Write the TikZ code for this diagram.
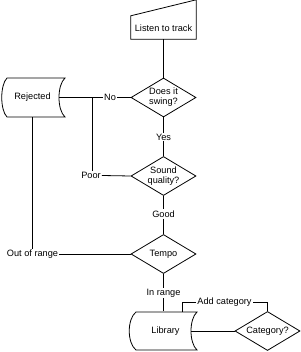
\documentclass[tikz,border=0pt]{standalone}
\usepackage{fontspec}
\setmainfont{Liberation Sans}
\usetikzlibrary{shapes.geometric,calc}
\begin{document}
\begin{tikzpicture}[x=1pt,y=-1pt,
  every node/.style={font=\fontsize{9.2}{10}\selectfont, align=center},
  box/.style={rectangle, inner sep=0pt, minimum width=#1, minimum height=39pt},
  dec/.style={diamond, draw, line width=0.8pt, inner sep=0pt, minimum width=65pt, minimum height=39pt, aspect=1.67},
  lbl/.style={inner sep=1pt},
  ln/.style={line width=0.8pt},
  shp/.style={draw, line width=0.8pt}]
\useasboundingbox (0,0) rectangle (300,352);
% shapes
\node[box=65pt] (listen) at (163.5,19.5) {};
\node (listentxt) at (163.5,28) {Listen to track};
\draw[shp] (listen.south west) -- (listen.south east) -- (listen.north east) -- ($(listen.north west)+(0,16)$) -- cycle;
\node[dec] (swing) at (163.5,97.5) {Does it\\swing?};
\node[dec] (sound) at (163.5,176) {Sound\\quality?};
\node[dec] (tempo) at (163.5,254) {Tempo};
\node[dec] (category) at (267.5,331) {Category?};
\node[box=58pt] (rejected) at (32.5,97.5) {Rejected};
\draw[shp] (7,78) -- (65,78) .. controls (57,85) and (57,110) .. (65,117) -- (7,117) .. controls (0,110) and (0,85) .. (7,78) -- cycle;
\coordinate (rejR) at (59,97.5);
\node[box=61pt] (library) at (165.5,331) {Library};
\draw[shp] (136,312) -- (197,312) .. controls (189,319) and (189,343) .. (197,350) -- (136,350) .. controls (127,343) and (127,319) .. (136,312) -- cycle;
\coordinate (libR) at (191,331);
\coordinate (libT) at (182,312);
% labels
\node[lbl] (no) at (110,97.5) {No};
\node[lbl] (yes) at (163.5,137) {Yes};
\node[lbl] (poor) at (91,175.5) {Poor};
\node[lbl] (good) at (163.5,214) {Good};
\node[lbl] (oor) at (32.5,254) {Out of range};
\node[lbl] (inrange) at (163.5,293) {In range};
\node[lbl] (addcat) at (224.5,302) {Add category};
% connectors
\draw[ln] (listen.south) -- (swing.north);
\draw[ln] (swing.west) -- (no.east);
\draw[ln] (no.west) -- (rejR);
\draw[ln] (swing.south) -- (yes.north);
\draw[ln] (yes.south) -- (sound.north);
\draw[ln] (sound.west) -- (poor.east);
\draw[ln] (poor.north -| 92,0) -- (92,97.5);
\draw[ln] (sound.south) -- (good.north);
\draw[ln] (good.south) -- (tempo.north);
\draw[ln] (tempo.west) -- (oor.east);
\draw[ln] (oor.north) -- (oor.north |- rejected.south);
\draw[ln] (tempo.south) -- (inrange.north);
\draw[ln] (inrange.south) -- (inrange.south |- library.north);
\draw[ln] (libR) -- (category.west);
\draw[ln] (category.north) |- (addcat.east);
\draw[ln] (addcat.west) -| (libT);
\end{tikzpicture}
\end{document}
